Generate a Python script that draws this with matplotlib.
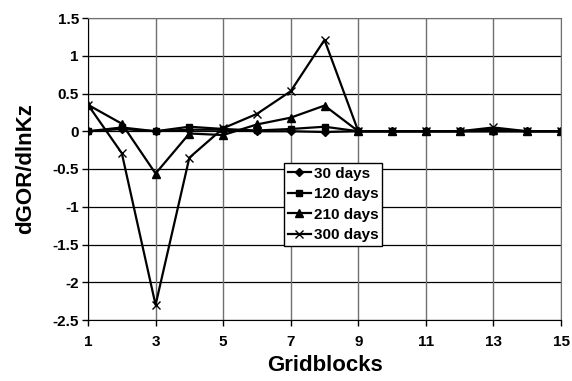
import matplotlib
matplotlib.use("Agg")
import matplotlib.pyplot as plt

gridblocks = list(range(1, 16))
d30 = [0, 0.03, 0, 0.02, 0.02, 0, 0, -0.01, 0, 0, 0, 0, 0, 0, 0]
d120 = [0, 0.05, 0, 0.06, 0.03, 0.01, 0.03, 0.06, 0, 0, 0, 0, 0, 0, 0]
d210 = [0.35, 0.10, -0.56, -0.03, -0.05, 0.09, 0.18, 0.34, 0, 0, 0, 0, 0.02, 0, 0]
d300 = [0.35, -0.29, -2.30, -0.35, 0.04, 0.23, 0.53, 1.21, 0, 0, 0, 0, 0.05, 0, 0]
labels = ["30 days", "120 days", "210 days", "300 days"]
xticks = [1, 3, 5, 7, 9, 11, 13, 15]
yticks = [1.5, 1, 0.5, 0, -0.5, -1, -1.5, -2, -2.5]

plt.rcParams["font.family"] = ["Liberation Sans", "DejaVu Sans"]
plt.rcParams["font.weight"] = "bold"

fig = plt.figure(figsize=(5.72, 3.81), dpi=100)
ax = fig.add_axes([88 / 572, 1 - 320 / 381, (561 - 88) / 572, (320 - 18) / 381])

ax.plot(gridblocks, d30, color="black", lw=1.6, marker="D", ms=4.5, label=labels[0])
ax.plot(gridblocks, d120, color="black", lw=1.6, marker="s", ms=5, label=labels[1])
ax.plot(gridblocks, d210, color="black", lw=1.6, marker="^", ms=5.5, label=labels[2])
ax.plot(gridblocks, d300, color="black", lw=1.6, marker="x", ms=6, mew=1.0, label=labels[3])

ax.set_xlim(1, 15)
ax.set_ylim(-2.5, 1.5)
ax.set_xticks(xticks)
ax.set_yticks(yticks)
ax.set_xticklabels([str(t) for t in xticks], fontsize=11, fontweight="bold")
ax.set_yticklabels([f"{t:g}" for t in yticks], fontsize=11, fontweight="bold")
ax.tick_params(direction="out", length=4, width=1)
ax.tick_params(axis="x", pad=7)
ax.tick_params(axis="y", pad=2.5)

for y in yticks:
    ax.axhline(y, color="black", lw=0.9, zorder=0)
for x in xticks:
    ax.axvline(x, color="#707070", lw=1.0, zorder=0)

ax.spines["left"].set_color("black")
ax.spines["bottom"].set_color("black")
ax.spines["top"].set_color("#707070")
ax.spines["right"].set_color("#707070")

ax.set_xlabel("Gridblocks", fontsize=16, fontweight="bold", labelpad=4)
ax.set_ylabel("dGOR/dlnKz", fontsize=16, fontweight="bold", labelpad=12)

leg = ax.legend(loc="upper left", bbox_to_anchor=((284 - 88) / 473, 1 - (163 - 18) / 302),
                prop={"size": 11, "weight": "bold"}, frameon=True, fancybox=False,
                edgecolor="black", framealpha=1, borderpad=0.25, labelspacing=0.42,
                handlelength=1.5, handletextpad=0.2, borderaxespad=0)
leg.get_frame().set_linewidth(1.0)

fig.savefig("out.png", dpi=100)
